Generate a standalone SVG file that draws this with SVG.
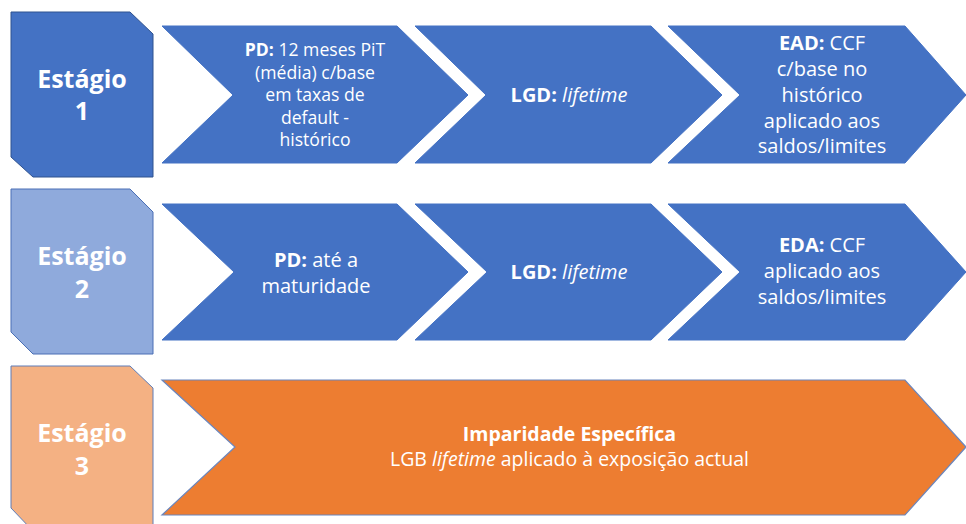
<svg xmlns="http://www.w3.org/2000/svg" width="966" height="524" viewBox="0 0 966 524">
<style>
.t{font-family:"Open Sans","Noto Sans","DejaVu Sans",sans-serif;fill:#ffffff;text-anchor:middle}
.st{font-size:25px;font-weight:bold}
.c{font-size:20px}
.c3{font-size:19.5px}
.cs{font-size:17.6px}
.b{font-weight:bold}
.i{font-style:italic}
.blue{fill:#4472C4;stroke:#4472C4;stroke-width:1}
.orange{fill:#ED7D31;stroke:#6A86BE;stroke-width:1.2}
</style>
<rect width="966" height="524" fill="#ffffff"/>

<g id="stage1">
<polygon points="11,12 130,12 153,34 153,177 33,177 11,157" fill="#4472C4" stroke="#2F528F" stroke-width="1"/>
<text class="t st" x="82" y="88">Estágio</text>
<text class="t st" x="82" y="120">1</text>
</g>
<g id="stage2">
<polygon points="11,189 130,189 153,212 153,354 33,354 11,332" fill="#8FAADC" stroke="#4A6FB5" stroke-width="1"/>
<text class="t st" x="82" y="265">Estágio</text>
<text class="t st" x="82" y="298">2</text>
</g>
<g id="stage3">
<polygon points="11,366 130,366 153,388 153,531 33,531 11,508" fill="#F4B183" stroke="#5E7DB8" stroke-width="1"/>
<text class="t st" x="82" y="442">Estágio</text>
<text class="t st" x="82" y="475">3</text>
</g>

<g id="r1c1">
<polygon class="blue" points="162,26 397,26 468,95 397,163 162,163 233,95"/>
<text class="t cs" x="315" y="56"><tspan class="b">PD:</tspan> 12 meses PiT</text>
<text class="t cs" x="315" y="78.5">(média) c/base</text>
<text class="t cs" x="315" y="101">em taxas de</text>
<text class="t cs" x="315" y="123.5">default -</text>
<text class="t cs" x="315" y="146">histórico</text>
</g>
<g id="r1c2">
<polygon class="blue" points="415,26 651,26 722,95 651,163 415,163 486,95"/>
<text class="t c" x="569" y="102"><tspan class="b">LGD:</tspan> <tspan class="i">lifetime</tspan></text>
</g>
<g id="r1c3">
<polygon class="blue" points="668,26 905,26 966,95 905,163 668,163 740,95"/>
<text class="t c" x="822" y="50"><tspan class="b">EAD:</tspan> CCF</text>
<text class="t c" x="822" y="76">c/base no</text>
<text class="t c" x="822" y="102">histórico</text>
<text class="t c" x="822" y="127.5">aplicado aos</text>
<text class="t c" x="822" y="153">saldos/limites</text>
</g>

<g id="r2c1">
<polygon class="blue" points="162,204 397,204 468,272 397,340 162,340 234,272"/>
<text class="t c" x="316" y="267"><tspan class="b">PD:</tspan> até a</text>
<text class="t c" x="316" y="293">maturidade</text>
</g>
<g id="r2c2">
<polygon class="blue" points="415,204 651,204 722,272 651,340 415,340 487,272"/>
<text class="t c" x="569" y="279"><tspan class="b">LGD:</tspan> <tspan class="i">lifetime</tspan></text>
</g>
<g id="r2c3">
<polygon class="blue" points="668,204 905,204 966,272 905,340 668,340 740,272"/>
<text class="t c" x="822" y="252"><tspan class="b">EDA:</tspan> CCF</text>
<text class="t c" x="822" y="278">aplicado aos</text>
<text class="t c" x="822" y="304">saldos/limites</text>
</g>

<g id="r3c1">
<polygon class="orange" points="162,380 905,380 966,447 905,515 162,515 235,447"/>
<text class="t c3 b" x="569.5" y="441">Imparidade Específica</text>
<text class="t c3" x="569.5" y="466">LGB <tspan class="i">lifetime</tspan> aplicado à exposição actual</text>
</g>
<g id="connectors"></g>
</svg>
